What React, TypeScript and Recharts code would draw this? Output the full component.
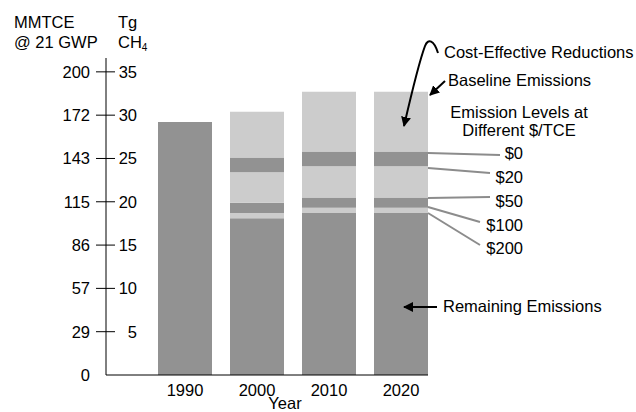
import { BarChart, Bar, XAxis, YAxis } from 'recharts'

const years = ['1990', '2000', '2010', '2020']
// Tg CH4, stacked bottom to top
const remaining = [29.2, 18.1, 18.7, 18.7]
const band200 = [0, 0.6, 0.6, 0.6]
const band100 = [0, 1.2, 1.2, 1.2]
const band50 = [0, 3.5, 3.6, 3.6]
const band20 = [0, 1.7, 1.7, 1.7]
const costEffective = [0, 5.3, 6.9, 6.9]

const tgTicks = [0, 5, 10, 15, 20, 25, 30, 35]
const mmtceLabels = ['0', '29', '57', '86', '115', '143', '172', '200']
const priceLabels = ['$0', '$20', '$50', '$100', '$200']

const data = years.map((year, i) => ({
  year,
  remaining: remaining[i],
  band200: band200[i],
  band100: band100[i],
  band50: band50[i],
  band20: band20[i],
  costEffective: costEffective[i]
}))

const DARK = '#929292'
const LIGHT = '#cccccc'
const FONT = '"Liberation Sans", Arial, sans-serif'
const FS = 16.5

function DualTick(props: any) {
  const { x, y, payload } = props
  const idx = tgTicks.indexOf(payload.value)
  return (
    <g>
      {payload.value > 0 && <line x1={x - 10} x2={x + 9} y1={y} y2={y} stroke="#000" />}
      <text x={x - 16} y={y} textAnchor="end" dominantBaseline="central" fontSize={FS} fill="#000" fontFamily={FONT}>
        {mmtceLabels[idx]}
      </text>
      {payload.value > 0 && (
        <text x={x + 31} y={y} textAnchor="end" dominantBaseline="central" fontSize={FS} fill="#000" fontFamily={FONT}>
          {payload.value}
        </text>
      )}
    </g>
  )
}

// leader lines: [x1, y1, x2, y2], label y
const leaders = [
  [428, 153, 500, 155, 153],
  [428, 168, 490, 173, 177],
  [428, 198, 490, 197, 201],
  [428, 207, 480, 222, 225],
  [428, 213, 480, 245, 248]
]

export default function App() {
  return (
    <div style={{ position: 'absolute', left: 0, top: 0, width: 636, height: 412, background: '#fff', fontFamily: FONT }}>
      <BarChart width={636} height={412} data={data} margin={{ top: 58, right: 208, bottom: 7, left: 0 }}>
        <XAxis
          dataKey="year"
          padding={{ left: 43, right: -9 }}
          tickLine={false}
          tickSize={0}
          tickMargin={9}
          height={30}
          axisLine={{ stroke: '#000' }}
          tick={{ fontSize: FS, fill: '#000', fontFamily: FONT }}
        />
        <YAxis
          type="number"
          domain={[0, 36.6]}
          ticks={tgTicks}
          interval={0}
          width={106}
          tickLine={false}
          tickSize={0}
          tickMargin={0}
          axisLine={{ stroke: '#000' }}
          tick={<DualTick />}
        />
        <Bar dataKey="remaining" stackId="a" fill={DARK} barSize={54} isAnimationActive={false} />
        <Bar dataKey="band200" stackId="a" fill={LIGHT} barSize={54} isAnimationActive={false} />
        <Bar dataKey="band100" stackId="a" fill={DARK} barSize={54} isAnimationActive={false} />
        <Bar dataKey="band50" stackId="a" fill={LIGHT} barSize={54} isAnimationActive={false} />
        <Bar dataKey="band20" stackId="a" fill={DARK} barSize={54} isAnimationActive={false} />
        <Bar dataKey="costEffective" stackId="a" fill={LIGHT} barSize={54} isAnimationActive={false} />
      </BarChart>

      <svg width={636} height={412} style={{ position: 'absolute', left: 0, top: 0, pointerEvents: 'none' }} fontFamily={FONT} fontSize={FS}>
        <defs>
          <marker id="head" viewBox="0 0 10 10" refX="9" refY="5" markerWidth="5" markerHeight="5" orient="auto">
            <path d="M0,0 L10,5 L0,10 z" fill="#000" />
          </marker>
        </defs>
        <text x={14} y={22} dominantBaseline="central">MMTCE</text>
        <text x={14} y={42} dominantBaseline="central">@ 21 GWP</text>
        <text x={118} y={22} dominantBaseline="central">Tg</text>
        <text x={118} y={42} dominantBaseline="central">
          CH<tspan fontSize={10} dy={5}>4</tspan>
        </text>
        <text x={285} y={403} textAnchor="middle" dominantBaseline="central">Year</text>

        <text x={444} y={52} dominantBaseline="central">Cost-Effective Reductions</text>
        <text x={448} y={80} dominantBaseline="central">Baseline Emissions</text>
        <text x={519} y={112} textAnchor="middle" dominantBaseline="central">Emission Levels at</text>
        <text x={519} y={130} textAnchor="middle" dominantBaseline="central">Different $/TCE</text>
        <text x={443} y={306} dominantBaseline="central">Remaining Emissions</text>

        <path d="M438,53 C434,40 428,38 425,46 C419,62 410,100 404,126" fill="none" stroke="#000" strokeWidth={2} markerEnd="url(#head)" />
        <line x1={445} y1={81} x2={430} y2={95} stroke="#000" strokeWidth={2} markerEnd="url(#head)" />
        <line x1={437} y1={307} x2={404} y2={307} stroke="#000" strokeWidth={2} markerEnd="url(#head)" />

        {leaders.map((l, i) => (
          <g key={i}>
            <line x1={l[0]} y1={l[1]} x2={l[2]} y2={l[3]} stroke="#8c8c8c" strokeWidth={2} />
            <text x={523} y={l[4]} textAnchor="end" dominantBaseline="central">{priceLabels[i]}</text>
          </g>
        ))}
      </svg>
    </div>
  )
}
